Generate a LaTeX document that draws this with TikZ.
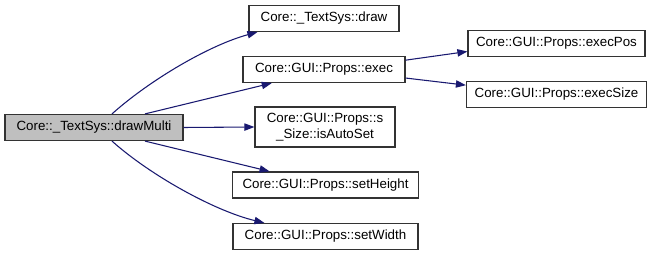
\documentclass[tikz,border=0pt]{standalone}
\usepackage{fontspec}
\setmainfont{Liberation Sans}
\usepackage{tikz}
\usetikzlibrary{calc,arrows.meta}

\definecolor{edgeblue}{RGB}{25,25,112}
\definecolor{rootgray}{RGB}{191,191,191}

\tikzset{
  fnbox/.style={draw=black!80, line width=0.9pt, fill=white, inner sep=0pt,
    minimum height=19.5pt, font=\fontsize{10}{12}\selectfont, align=center},
  call/.style={draw=edgeblue, line width=0.8pt,
    -{Triangle[length=7.5pt,width=5.5pt]}}
}

\begin{document}
\begin{tikzpicture}[x=0.75pt,y=-0.75pt]
      \useasboundingbox (0,0) rectangle (659,256);
      % caller
      \node[fnbox, fill=rootgray, minimum width=133.5pt] (root) at (94,127.5) {Core::\_TextSys::drawMulti};
      % direct callees
      \node[fnbox, minimum width=112.5pt] (draw) at (324,18.5) {Core::\_TextSys::draw};
      \node[fnbox, minimum width=121.5pt] (exec) at (324,69.5) {Core::GUI::Props::exec};
      \node[fnbox, minimum width=105pt, minimum height=30pt] (auto) at (325,127) {Core::GUI::Props::s\\\_Size::isAutoSet};
      \node[fnbox, minimum width=140pt] (height) at (325.5,185) {Core::GUI::Props::setHeight};
      \node[fnbox, minimum width=138.75pt] (width) at (325.5,236.5) {Core::GUI::Props::setWidth};
      % called from exec
      \node[fnbox, minimum width=132.75pt] (pos) at (556.5,43.5) {Core::GUI::Props::execPos};
      \node[fnbox, minimum width=135pt] (size) at (556.5,94.5) {Core::GUI::Props::execSize};

      \draw[call] ([xshift=13.5pt]root.north) .. controls +(38,-34) and +(-48,13) .. ([xshift=6.75pt]draw.south west);
      \draw[call] ([xshift=38.25pt]root.north) -- ([xshift=22pt]exec.south west);
      \draw[call] (root.east) -- (auto.west);
      \draw[call] ([xshift=38.25pt]root.south) -- ([xshift=28.5pt]height.north west);
      \draw[call] ([xshift=13.5pt]root.south) .. controls +(38,34) and +(-50,-12) .. ([xshift=24pt]width.north west);
      \draw[call] ([yshift=7pt]exec.east) -- ([yshift=-6pt]pos.west);
      \draw[call] ([yshift=-6.4pt]exec.east) -- ([yshift=7pt]size.west);
\end{tikzpicture}
\end{document}
